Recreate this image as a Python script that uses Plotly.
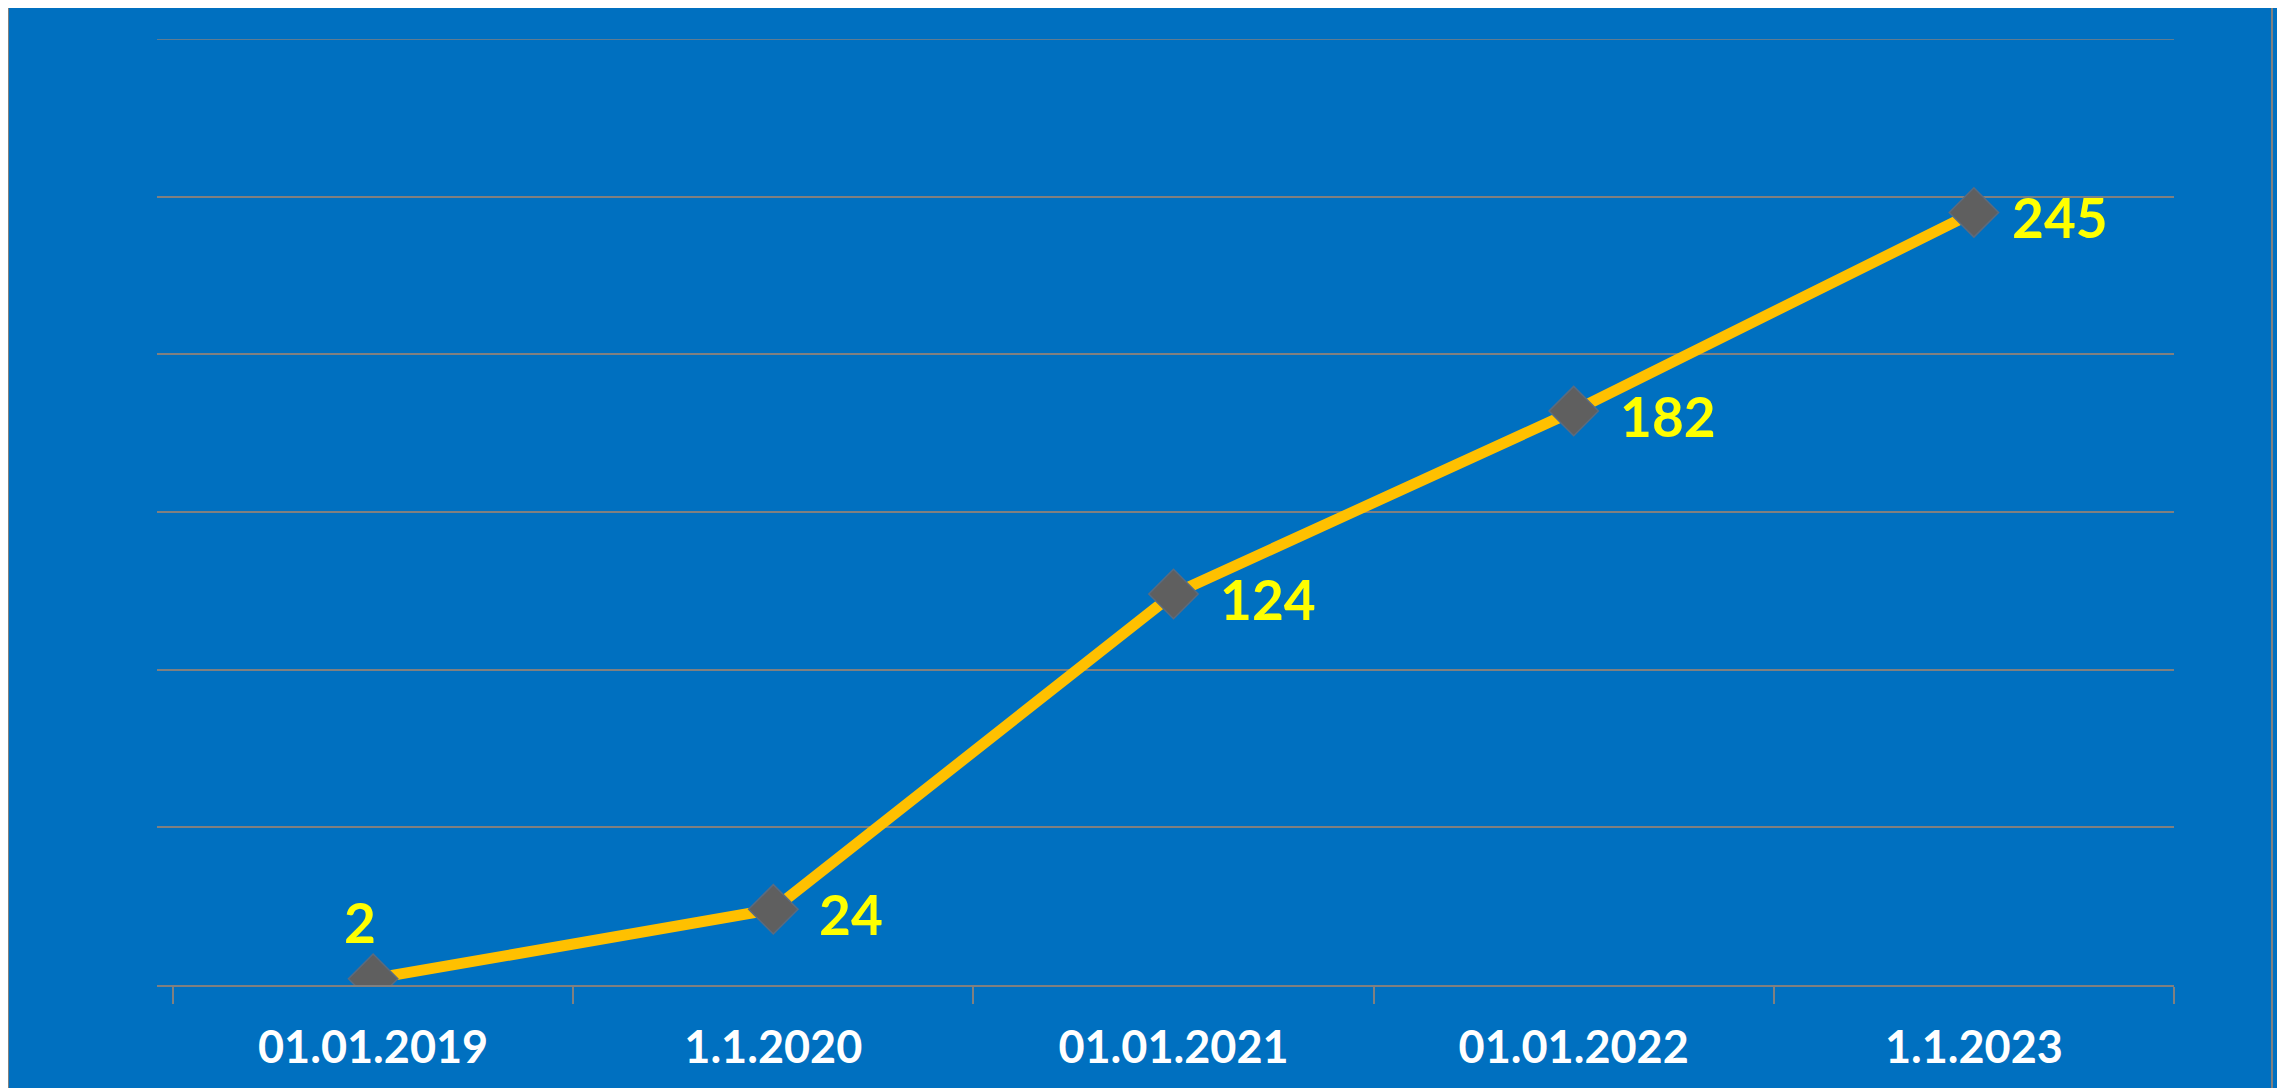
import plotly.graph_objects as go

categories = ["01.01.2019", "1.1.2020", "01.01.2021", "01.01.2022", "1.1.2023"]
values = [2, 24, 124, 182, 245]

# label placement style per point
label_pos = ["top", "right", "right", "right", "right"]
label_xshift = [-13, 44, 44, 44, 36]

W, H = 2285, 1088
OFF = 8  # browser body margin
L, R, T, B = 157 - OFF, 2285 - 2174 + OFF, 39 - OFF, 1088 - 985 + OFF

fig = go.Figure()
fig.add_trace(go.Scatter(
    x=categories, y=values, mode="lines+markers",
    line=dict(color="#FFC000", width=11),
    marker=dict(symbol="diamond", size=38, color="#5F5F5F",
                line=dict(color="#5A6B80", width=1.5)),
    hoverinfo="skip", showlegend=False,
))

for c, v, p, dx in zip(categories, values, label_pos, label_xshift):
    if p == "top":
        fig.add_annotation(x=c, y=v, text=str(v), showarrow=False,
                           xanchor="center", yanchor="bottom", xshift=dx, yshift=22,
                           font=dict(family="Lato", size=55, color="#FFFF00", weight="bold"))
    else:
        fig.add_annotation(x=c, y=v, text=str(v), showarrow=False,
                           xanchor="left", yanchor="middle", xshift=dx, yshift=-5,
                           font=dict(family="Lato", size=55, color="#FFFF00", weight="bold"))

pw = W - L - R
ph = H - T - B
# outer chart border (in figure pixels relative to the page)
bx0, bx1, by0, by1 = 8 - OFF, 2272 - OFF, 6 - OFF, 1100
fig.add_shape(type="rect", xref="paper", yref="paper",
              x0=(bx0 - L) / pw, x1=(bx1 - L) / pw,
              y0=(H - B - by1) / ph, y1=(H - B - by0) / ph,
              line=dict(color="#808080", width=2), layer="below")
# top gridline at range edge
fig.add_shape(type="line", xref="paper", yref="y", x0=0, x1=1, y0=300, y1=300,
              line=dict(color="#808080", width=1.5), layer="below")

fig.update_layout(
    width=W, height=H,
    margin=dict(l=L, r=R, t=T, b=B, pad=0),
    paper_bgcolor="#0070C0", plot_bgcolor="#0070C0",
    xaxis=dict(
        type="category", range=[-0.54, 4.5],
        showgrid=False, zeroline=False,
        showline=True, linecolor="#808080", linewidth=1.5,
        ticks="outside", tickson="boundaries", ticklen=17, tickcolor="#808080", tickwidth=1.5,
        tickfont=dict(family="Lato", size=45, color="#FFFFFF", weight="bold"),
        ticklabelstandoff=22,
    ),
    yaxis=dict(
        range=[0, 300], dtick=50, showticklabels=False,
        showgrid=True, gridcolor="#808080", gridwidth=1.5,
        zeroline=False, showline=False,
    ),
)

fig.write_html("out.html")
